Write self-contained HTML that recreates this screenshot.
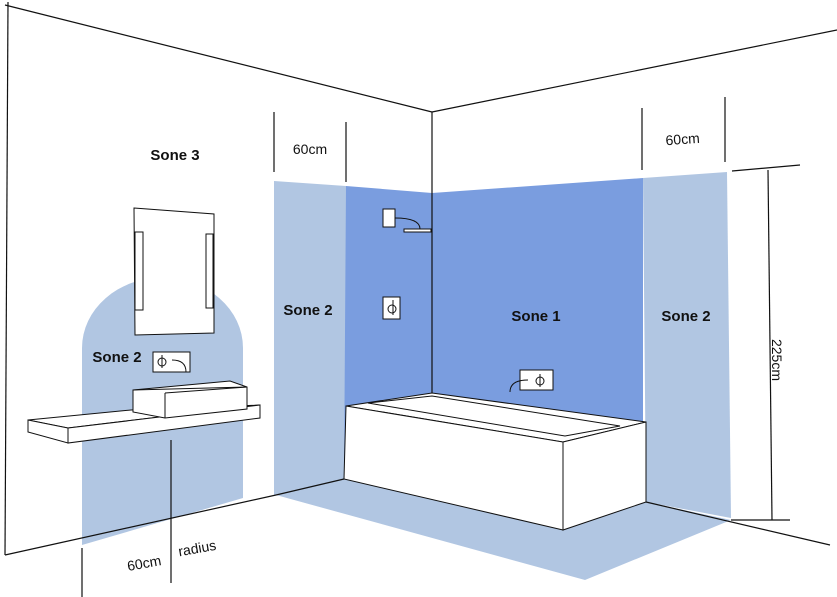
<!DOCTYPE html>
<html><head><meta charset="utf-8"><style>
html,body{margin:0;padding:0;background:#fff;}
svg{display:block;font-family:"Liberation Sans",sans-serif;}
.l{font-weight:bold;font-size:15px;fill:#111;}
.d{font-size:14px;fill:#111;}
</style></head><body>
<svg width="837" height="597" viewBox="0 0 837 597" xmlns="http://www.w3.org/2000/svg">
<rect width="837" height="597" fill="#fff"/>
<!-- floor zone -->
<polygon points="276,495 344,479 563,530 646,502 731,520 585,580" fill="#b1c6e2"/>
<!-- left zone 2 -->
<polygon points="274,181 346,186 346,480 274,495" fill="#b1c6e2"/>
<!-- zone 1 -->
<polygon points="346,186 432,193 643,178 643,502 563,530 344,479" fill="#7a9ddf"/>
<!-- right zone 2 -->
<polygon points="643,178 727,172 731,518 646,502" fill="#b1c6e2"/>
<!-- arch -->
<path d="M82,545 L82,348 A80,70 0 0 1 243,348 L243,498 Z" fill="#b1c6e2"/>
<g stroke="#111" stroke-width="1.2" fill="none">
<!-- room lines -->
<line x1="8" y1="2" x2="5" y2="555"/>
<line x1="5" y1="5" x2="432" y2="112"/>
<line x1="432" y1="112" x2="837" y2="30"/>
<line x1="432" y1="112" x2="432" y2="393"/>
<polyline points="5,555 276,495 344,479"/>
<line x1="646" y1="502" x2="830" y2="545"/>
<!-- dims -->
<line x1="274" y1="112" x2="274" y2="172"/>
<line x1="346" y1="122" x2="346" y2="182"/>
<line x1="642" y1="108" x2="642" y2="170"/>
<line x1="725" y1="97" x2="725" y2="162"/>
<line x1="732" y1="171" x2="800" y2="165"/>
<line x1="768" y1="170" x2="772" y2="520"/>
<line x1="731" y1="520" x2="790" y2="520"/>
<line x1="82" y1="548" x2="82" y2="597"/>
<line x1="171" y1="440" x2="171" y2="583"/>
</g>
<g stroke="#111" stroke-width="1" fill="#fff">
<!-- bathtub -->
<polygon points="346,406 432,393 646,422 563,442"/>
<polygon points="368,403 432,396 620,426 565,436"/>
<polygon points="346,406 563,442 563,530 344,479"/>
<polygon points="563,442 646,422 646,502 563,530"/>
<!-- mirror -->
<polygon points="134,208 214,214 214,333 135,335"/>
<rect x="135" y="232" width="8" height="78"/>
<rect x="206" y="234" width="7" height="74"/>
<!-- shelf -->
<polygon points="28,420 131,410 260,405 68,428"/>
<polygon points="28,420 68,428 68,443 28,432"/>
<polygon points="68,428 260,405 260,418 68,443"/>
<!-- sink -->
<polygon points="133,390 230,381 247,387 247,409 165,418 133,412"/>
<line x1="133" y1="390" x2="247" y2="387"/>
<line x1="165" y1="393" x2="165" y2="418"/>
<line x1="165" y1="393" x2="247" y2="387"/>
<!-- tap box -->
<rect x="153" y="352" width="37" height="20"/>
<!-- shower -->
<rect x="383" y="209" width="12" height="18"/>
<rect x="404" y="229" width="27" height="3"/>
<rect x="383" y="297" width="17" height="22"/>
<rect x="520" y="370" width="33" height="20"/>
</g>
<g stroke="#111" stroke-width="1" fill="none">
<circle cx="162" cy="362" r="4"/><line x1="162" y1="355" x2="162" y2="368"/>
<path d="M172,360 q14,0 14,12"/>
<path d="M395,218 q25,0 25,11"/>
<circle cx="392" cy="309" r="4"/><line x1="393" y1="300" x2="393" y2="315"/>
<circle cx="540" cy="381" r="4"/><line x1="540" y1="374" x2="540" y2="387"/>
<path d="M528,380 q-18,0 -18,12"/>
</g>
<text class="l" x="175" y="160" text-anchor="middle">Sone 3</text>
<text class="l" x="308" y="315" text-anchor="middle">Sone 2</text>
<text class="l" x="536" y="321" text-anchor="middle">Sone 1</text>
<text class="l" x="686" y="321" text-anchor="middle">Sone 2</text>
<text class="l" x="117" y="362" text-anchor="middle">Sone 2</text>
<text class="d" x="310" y="154" text-anchor="middle">60cm</text>
<text class="d" x="683" y="144" text-anchor="middle" transform="rotate(-4 683 144)">60cm</text>
<text class="d" x="145" y="568" text-anchor="middle" transform="rotate(-10 145 568)">60cm</text>
<text class="d" x="198" y="553" text-anchor="middle" transform="rotate(-10 198 553)">radius</text>
<text class="d" x="772" y="360" text-anchor="middle" transform="rotate(90 772 360)">225cm</text>
</svg>
</body></html>
